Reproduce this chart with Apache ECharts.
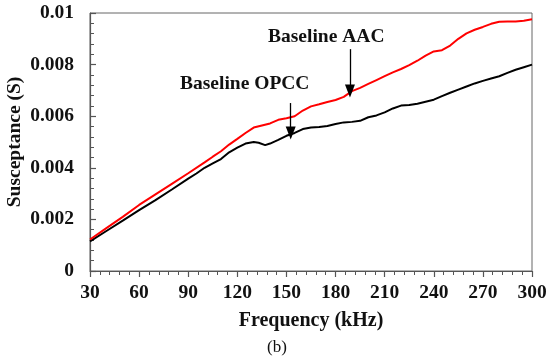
<!DOCTYPE html>
<html>
<head>
<meta charset="utf-8">
<script src="https://cdn.jsdelivr.net/npm/echarts@6/dist/echarts.min.js"></script>
<style>html,body{margin:0;padding:0;background:#fff;}#c{width:550px;height:362px;}</style>
</head>
<body>
<div id="c"></div>
<script>
const freqAAC = [30,40,50,60,70,80,90,100,105,110,115,120,125,130,135,140,145,150,155,160,165,170,175,180,185,190,195,200,205,210,215,220,225,230,235,240,245,250,255,260,265,270,275,280,285,290,295,300];
const aac = [0.00122,0.00166,0.00210,0.00256,0.00297,0.00338,0.00379,0.00421,0.00443,0.00464,0.00490,0.00512,0.00535,0.00556,0.00564,0.00572,0.00586,0.00592,0.00600,0.00622,0.00638,0.00646,0.00655,0.00663,0.00675,0.00697,0.00710,0.00725,0.00740,0.00755,0.00770,0.00783,0.00798,0.00815,0.00835,0.00851,0.00856,0.00874,0.00900,0.00921,0.00935,0.00946,0.00958,0.00966,0.00967,0.00967,0.00970,0.00976];
const freqOPCC = [30,40,50,60,70,80,90,95,100,105,110,115,120,125,130,133,137,140,145,150,155,160,165,170,175,180,185,190,195,200,205,210,215,220,225,230,235,240,245,250,255,260,265,270,275,280,285,290,295,300];
const opcc = [0.00115,0.00155,0.00195,0.00236,0.00275,0.00316,0.00358,0.00378,0.00400,0.00417,0.00434,0.00460,0.00478,0.00494,0.00500,0.00497,0.00488,0.00494,0.00508,0.00524,0.00535,0.00550,0.00556,0.00558,0.00562,0.00570,0.00576,0.00578,0.00582,0.00596,0.00603,0.00615,0.00630,0.00641,0.00643,0.00648,0.00656,0.00664,0.00678,0.00691,0.00703,0.00715,0.00727,0.00737,0.00746,0.00755,0.00768,0.00780,0.00790,0.00800];
const xTitle = 'Frequency (kHz)';
const yTitle = 'Susceptance (S)';
const labelAAC = 'Baseline AAC';
const labelOPCC = 'Baseline OPCC';
const arrowAAC = [[188.8, 0.0086], [188.8, 0.00698]];
const arrowOPCC = [[152.6, 0.00651], [152.6, 0.00535]];
const subCaption = '(b)';

const FONT = 'Liberation Serif';
const AX = '#555';
const chart = echarts.init(document.getElementById('c'), null, {renderer: 'canvas'});
const zip = (xs, ys) => xs.map((x, i) => [x, ys[i]]);
const arrowLine = (pts) => ({
  silent: true,
  symbol: ['none', 'triangle'],
  symbolSize: [10, 13],
  label: {show: false},
  lineStyle: {color: '#000', width: 1.3, type: 'solid'},
  data: [[{coord: pts[0]}, {coord: pts[1]}]]
});
chart.setOption({
  animation: false,
  textStyle: {fontFamily: FONT},
  grid: {left: 90, right: 18, top: 13, bottom: 91, show: true, borderColor: '#666', borderWidth: 1, outerBoundsMode: 'none', containLabel: false},
  xAxis: [{
    type: 'value', min: 30, max: 300, interval: 30,
    name: xTitle, nameLocation: 'middle', nameGap: 40, nameMoveOverlap: false,
    nameTextStyle: {fontFamily: FONT, fontWeight: 'bold', fontSize: 20, color: '#111'},
    axisLine: {show: true, onZero: false, lineStyle: {color: AX, width: 1.2}},
    axisTick: {show: true, inside: false, length: 6, lineStyle: {color: AX, width: 1.2}},
    minorTick: {show: true, splitNumber: 5, length: 4, lineStyle: {color: AX, width: 1}},
    splitLine: {show: false},
    axisLabel: {fontFamily: FONT, fontWeight: 'bold', fontSize: 19.5, color: '#111', margin: 12}
  }],
  yAxis: [{
    type: 'value', min: 0, max: 0.01, interval: 0.002,
    name: yTitle, nameLocation: 'middle', nameGap: 65, nameRotate: 90, nameMoveOverlap: false,
    nameTextStyle: {fontFamily: FONT, fontWeight: 'bold', fontSize: 19.5, color: '#111'},
    axisLine: {show: true, onZero: false, lineStyle: {color: AX, width: 1.2}},
    axisTick: {show: true, inside: true, length: 6, lineStyle: {color: AX, width: 1.2}},
    minorTick: {show: true, splitNumber: 5, length: 4, lineStyle: {color: AX, width: 1}},
    splitLine: {show: false},
    axisLabel: {fontFamily: FONT, fontWeight: 'bold', fontSize: 19.5, color: '#111', margin: 16,
      formatter: v => (v === 0 ? '0' : String(+v.toFixed(3)))}
  }],
  series: [
    {type: 'line', name: labelAAC, data: zip(freqAAC, aac), showSymbol: false, smooth: false,
      lineStyle: {color: '#ff0000', width: 2}, itemStyle: {color: '#ff0000'}, z: 3,
      markLine: arrowLine(arrowAAC)},
    {type: 'line', name: labelOPCC, data: zip(freqOPCC, opcc), showSymbol: false, smooth: false,
      lineStyle: {color: '#000', width: 2}, itemStyle: {color: '#000'}, z: 2,
      markLine: arrowLine(arrowOPCC)}
  ],
  graphic: [
    {type: 'text', left: 268, top: 27, style: {text: labelAAC, fontFamily: FONT, fontWeight: 'bold', fontSize: 19.5, fill: '#111'}},
    {type: 'text', left: 180, top: 74, style: {text: labelOPCC, fontFamily: FONT, fontWeight: 'bold', fontSize: 19.5, fill: '#111'}},
    {type: 'text', left: 267, top: 339, style: {text: subCaption, fontFamily: FONT, fontSize: 17, fill: '#111'}}
  ]
});
</script>
</body>
</html>
